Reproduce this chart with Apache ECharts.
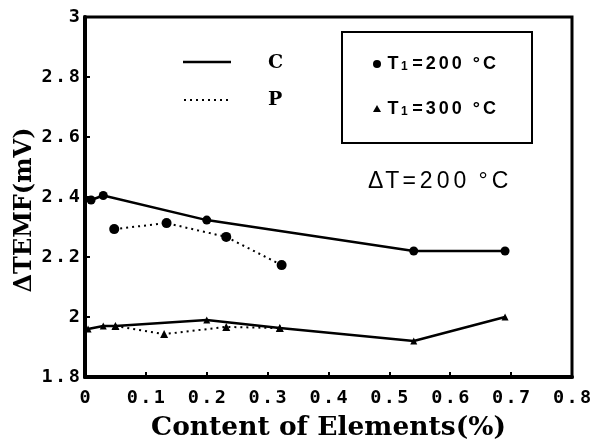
<!DOCTYPE html>
<html><head><meta charset="utf-8">
<script src="https://cdn.jsdelivr.net/npm/echarts@6/dist/echarts.min.js"></script>
<style>html,body{margin:0;padding:0;background:#fff}#c{width:592px;height:441px}</style>
</head><body><div id="c"></div>
<script>
// Data: [content %, ΔTEMF mV]
const C_200 = [[0.01, 2.39], [0.03, 2.405], [0.2, 2.323], [0.54, 2.22], [0.69, 2.22]];
const P_200 = [[0.048, 2.293], [0.134, 2.313], [0.232, 2.267], [0.323, 2.173]];
const C_300 = [[0.005, 1.96], [0.03, 1.97], [0.05, 1.97], [0.2, 1.99], [0.32, 1.963], [0.54, 1.92], [0.69, 2.0]];
const P_300 = [[0.05, 1.97], [0.13, 1.943], [0.232, 1.967], [0.32, 1.963]];
const xRange = [0, 0.8, 0.1];
const yRange = [1.8, 3, 0.2];

const chart = echarts.init(document.getElementById('c'), null, {renderer: 'canvas'});

// wrap each character in a rich-text token so that it can be spaced out like the original
function spaced(str, key) {
  return String(str).split('').map(ch => '{' + key + '|' + ch + '}').join('');
}
const tickRich = {c: {fontFamily: 'DejaVu Sans Mono', fontWeight: 'bold', fontSize: 18.5, color: '#000', padding: [0, 1.2, 0, 1.2]}};
const titleFont = {fontFamily: 'DejaVu Serif', fontWeight: 'bold', color: '#000'};

function mk(name, data, lineType, symbol, size) {
  return {
    name, type: 'line', data, symbol, symbolSize: size,
    lineStyle: {color: '#000', width: lineType === 'solid' ? 2.5 : 2, type: lineType},
    itemStyle: {color: '#000'}, animation: false, z: 3
  };
}

const tRich = {
  a: {font: 'bold 18px "Liberation Sans"', fill: '#000', padding: [0, 1.5, 0, 1.5]},
  s: {font: 'bold 12px "Liberation Sans"', fill: '#000', padding: [5, 3, 0, 1]},
  g: {font: 'bold 18px "Liberation Sans"', fill: '#000', padding: [0, 3, 0, 0]}
};
function tLabel(num) {
  return '{a|T}{s|1}' + spaced('=' + num, 'a') + '{g| }' + spaced('°C', 'a');
}

chart.setOption({
  animation: false,
  backgroundColor: '#fff',
  grid: {left: 85, right: 20, top: 17, bottom: 64, show: true, borderColor: '#000', borderWidth: 3, outerBoundsMode: 'none', containLabel: false},
  xAxis: {
    type: 'value', min: xRange[0], max: xRange[1], interval: xRange[2],
    axisLine: {lineStyle: {color: '#000', width: 4}},
    axisTick: {inside: true, length: 5, lineStyle: {color: '#000', width: 2}},
    axisLabel: {margin: 12, formatter: v => spaced(v, 'c'), rich: tickRich},
    splitLine: {show: false},
    name: 'Content of Elements(%)', nameLocation: 'middle', nameGap: 38, nameMoveOverlap: false,
    nameTextStyle: Object.assign({fontSize: 26.5}, titleFont)
  },
  yAxis: {
    type: 'value', min: yRange[0], max: yRange[1], interval: yRange[2],
    axisLine: {lineStyle: {color: '#000', width: 4}},
    axisTick: {inside: true, length: 5, lineStyle: {color: '#000', width: 2}},
    axisLabel: {margin: 4, formatter: v => spaced(v, 'c'), rich: tickRich},
    splitLine: {show: false},
    name: 'ΔTEMF(mV)', nameLocation: 'middle', nameGap: 48, nameMoveOverlap: false,
    nameTextStyle: Object.assign({fontSize: 24, padding: [0, 26, 0, 0]}, titleFont)
  },
  series: [
    mk('C 200', C_200, 'solid', 'circle', 9),
    mk('P 200', P_200, [2, 4], 'circle', 10),
    mk('C 300', C_300, 'solid', 'triangle', 7),
    mk('P 300', P_300, [2, 4], 'triangle', 8)
  ],
  graphic: [
    {type: 'line', shape: {x1: 183, y1: 62, x2: 231, y2: 62}, style: {stroke: '#000', lineWidth: 2.5}},
    {type: 'line', shape: {x1: 184, y1: 100, x2: 231, y2: 100}, style: {stroke: '#000', lineWidth: 2, lineDash: [2, 4]}},
    {type: 'text', x: 268, y: 63, style: {text: 'C', font: 'bold 19px "DejaVu Serif"', fill: '#000', verticalAlign: 'middle'}},
    {type: 'text', x: 268, y: 100, style: {text: 'P', font: 'bold 19px "DejaVu Serif"', fill: '#000', verticalAlign: 'middle'}},
    {type: 'rect', shape: {x: 342, y: 32, width: 190, height: 111}, style: {fill: 'none', stroke: '#000', lineWidth: 2}},
    {type: 'circle', shape: {cx: 377, cy: 64, r: 4}, style: {fill: '#000'}},
    {type: 'polygon', shape: {points: [[377, 105], [373, 112], [381, 112]]}, style: {fill: '#000'}},
    {type: 'text', x: 386, y: 64, style: {text: tLabel('200'), verticalAlign: 'middle', rich: tRich}},
    {type: 'text', x: 386, y: 109, style: {text: tLabel('300'), verticalAlign: 'middle', rich: tRich}},
    {type: 'text', x: 366, y: 182, style: {
      text: '{d|Δ}{t|T}' + spaced('=200', 'd') + '{g| }' + spaced('°C', 'd'), verticalAlign: 'middle',
      rich: {
        d: {font: '23px "Liberation Sans"', fill: '#000', padding: [0, 2, 0, 2]},
        t: {font: '23px "Liberation Sans"', fill: '#000', padding: [0, 1, 0, 0]},
        g: {font: '23px "Liberation Sans"', fill: '#000', padding: [0, 2, 0, 0]}
      }
    }}
  ]
});
</script></body></html>
